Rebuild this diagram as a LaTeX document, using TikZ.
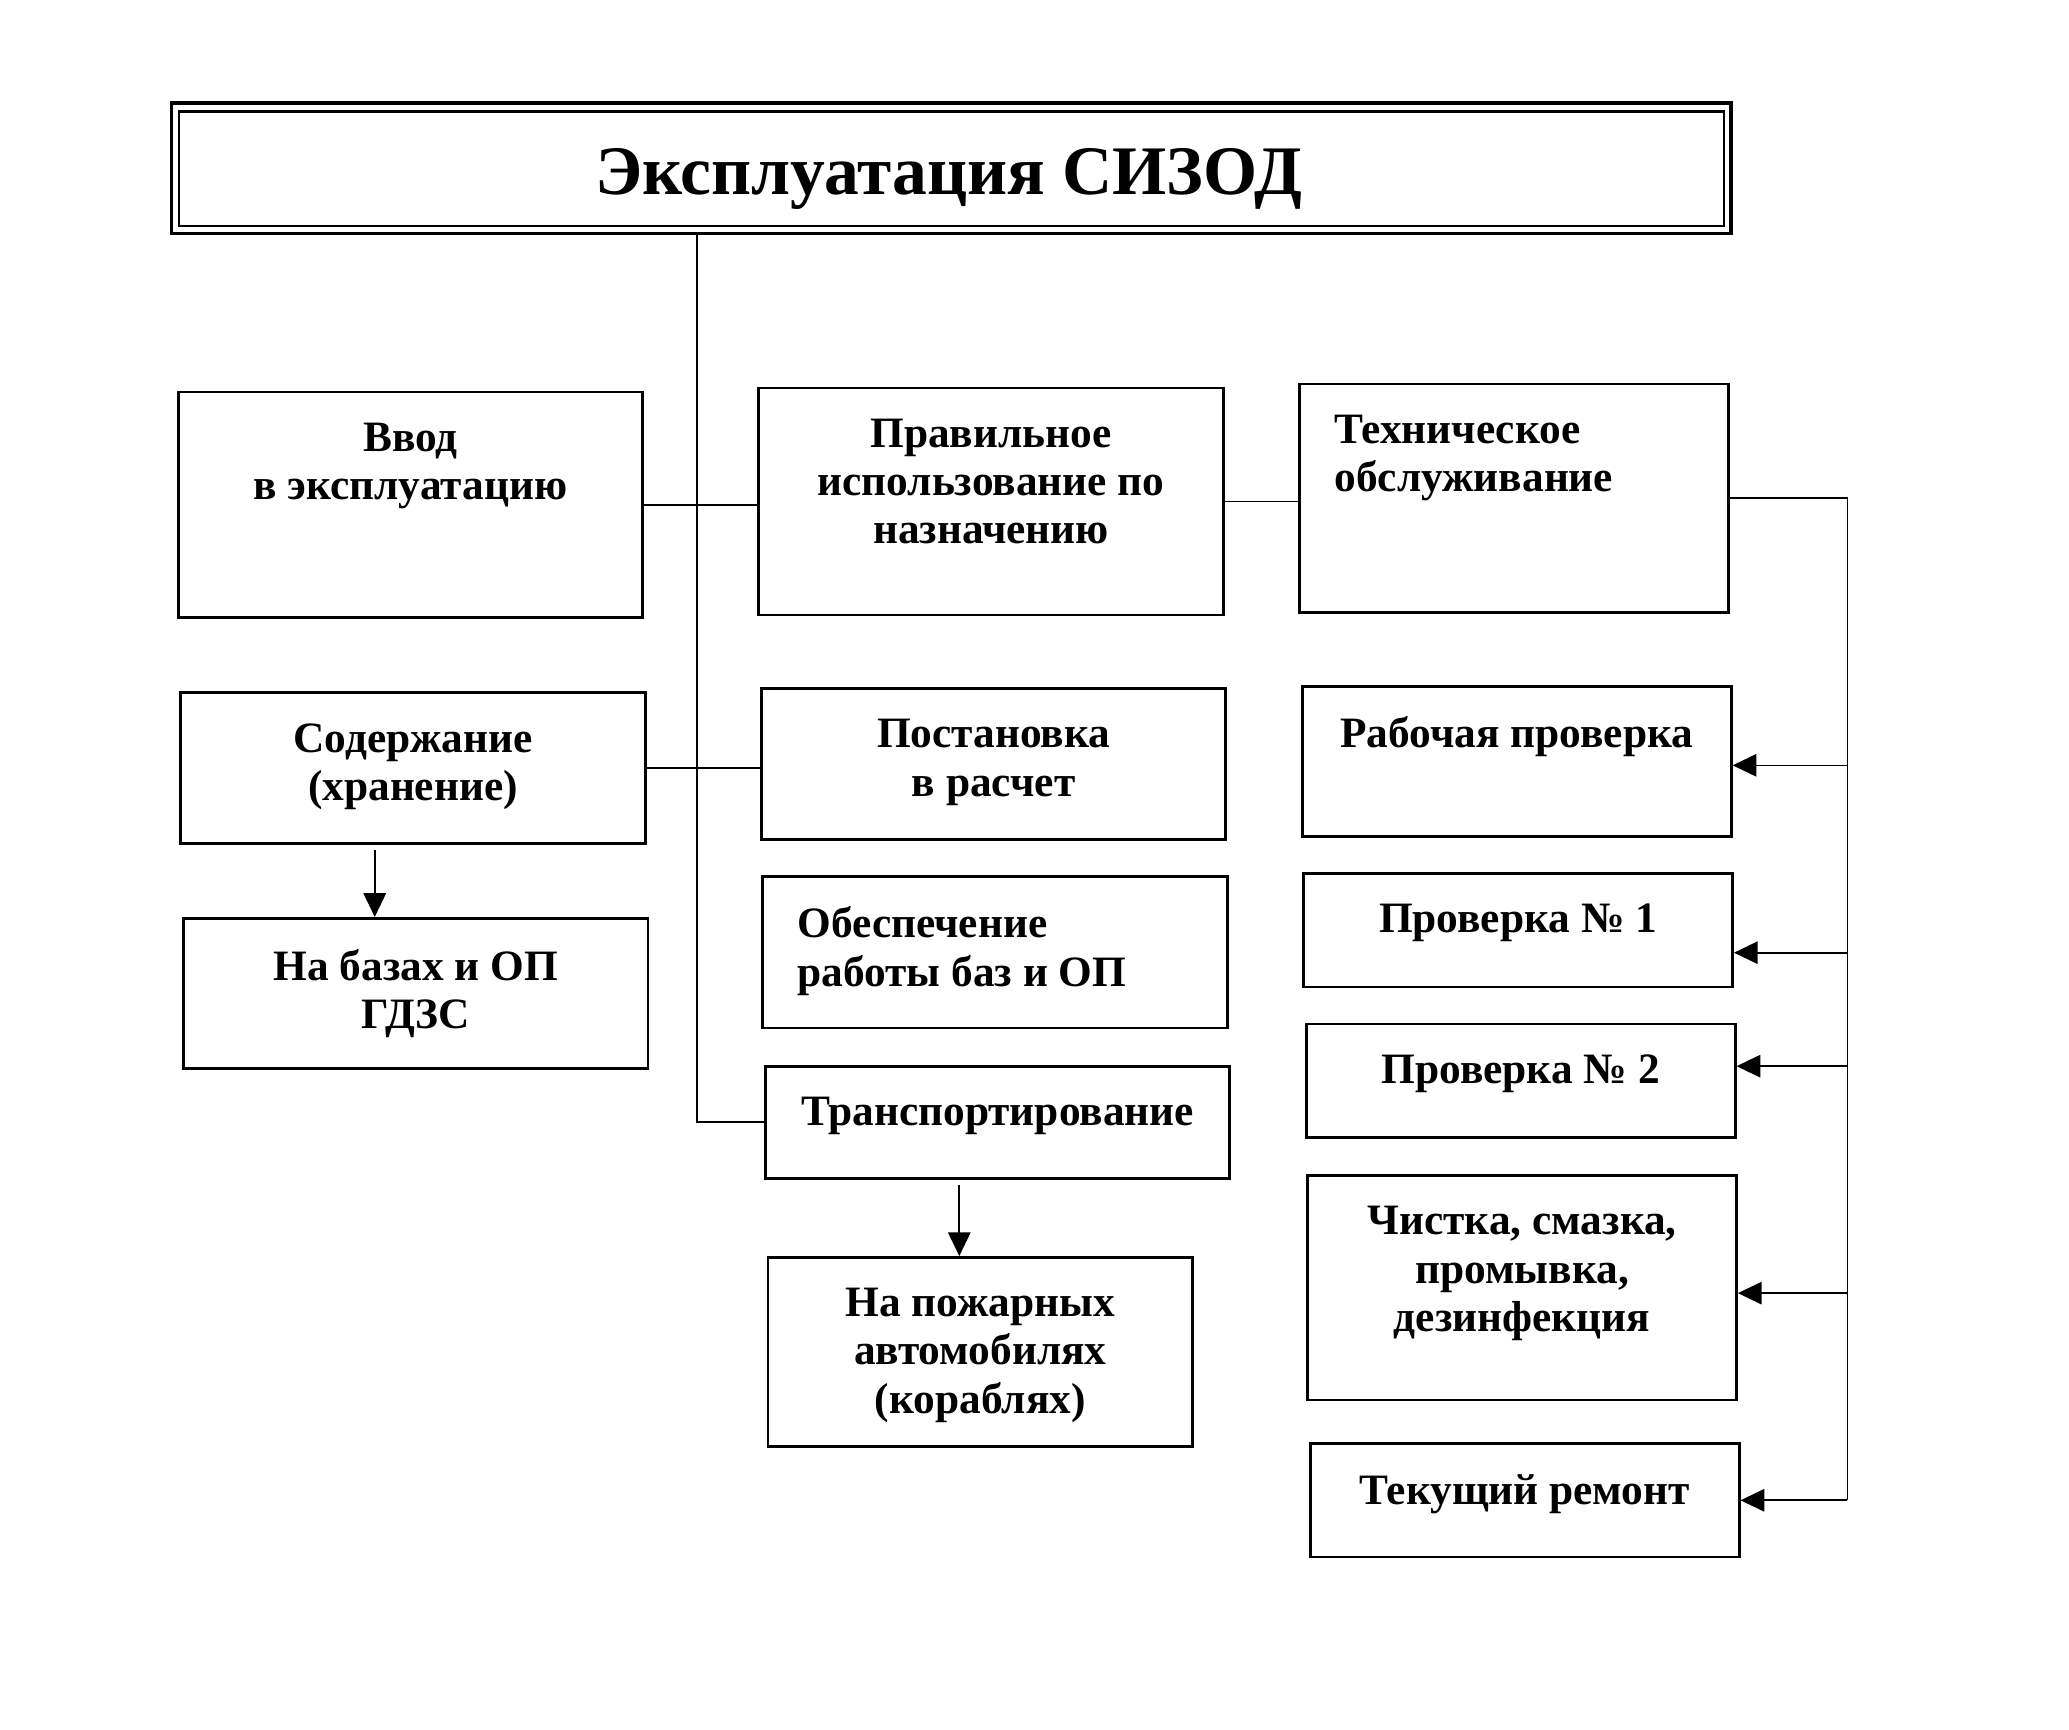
\documentclass[tikz,border=0pt]{standalone}
\usepackage{fontspec}
\setmainfont{Liberation Serif}
\usetikzlibrary{arrows.meta,calc}

\begin{document}
\begin{tikzpicture}[>={Triangle[length=0.36cm,width=0.34cm]},
  box/.style={draw, line width=1.2pt, inner sep=0pt},
  txt/.style={anchor=north, align=center, inner sep=0pt, yshift=-0.48cm,
    font=\bfseries\fontsize{18.7}{20.8}\selectfont},
  link/.style={line width=0.7pt}]
\useasboundingbox (0,0) rectangle (31.36,-26.22);

% title
\node[box, line width=1.6pt, minimum width=23.64cm, minimum height=1.98cm] (title) at (14.42,-2.55) {};
\draw[line width=1.1pt] ($(title.north west)+(0.14,-0.16)$) rectangle ($(title.south east)+(-0.14,0.14)$);
\node[font=\bfseries\fontsize{30}{36}\selectfont] (title-t) at (14.38,-2.72) {Эксплуатация СИЗОД};

% left column
\node[box, minimum width=7.04cm, minimum height=3.42cm] (vvod) at (6.22,-7.65) {};
\node[txt] (vvod-t) at (vvod.north) {Ввод\\в эксплуатацию};
\node[box, minimum width=7.04cm, minimum height=2.28cm] (soder) at (6.26,-11.64) {};
\node[txt] (soder-t) at (soder.north) {Содержание\\(хранение)};
\node[box, minimum width=7.04cm, minimum height=2.28cm] (bazy) at (6.30,-15.06) {};
\node[txt] (bazy-t) at (bazy.north) {На базах и ОП\\ГДЗС};

% middle column
\node[box, minimum width=7.04cm, minimum height=3.44cm] (prav) at (15.02,-7.60) {};
\node[txt] (prav-t) at (prav.north) {Правильное\\использование по\\назначению};
\node[box, minimum width=7.04cm, minimum height=2.28cm] (post) at (15.06,-11.58) {};
\node[txt] (post-t) at (post.north) {Постановка\\в расчет};
\node[box, minimum width=7.04cm, minimum height=2.30cm] (obesp) at (15.08,-14.43) {};
\node[txt, anchor=north west, align=left, xshift=0.54cm] (obesp-t) at (obesp.north west) {Обеспечение\\работы баз и ОП};
\node[box, minimum width=7.04cm, minimum height=1.70cm] (transp) at (15.12,-17.01) {};
\node[txt] (transp-t) at (transp.north) {Транспортирование};
\node[box, minimum width=6.44cm, minimum height=2.86cm] (pozh) at (14.86,-20.49) {};
\node[txt] (pozh-t) at (pozh.north) {На пожарных\\автомобилях\\(кораблях)};

% right column
\node[box, minimum width=6.50cm, minimum height=3.46cm] (tech) at (22.95,-7.55) {};
\node[txt, anchor=north west, align=left, xshift=0.54cm] (tech-t) at (tech.north west) {Техническое\\обслуживание};
\node[box, minimum width=6.50cm, minimum height=2.28cm] (rab) at (22.99,-11.54) {};
\node[txt] (rab-t) at (rab.north) {Рабочая проверка};
\node[box, minimum width=6.50cm, minimum height=1.72cm] (pr1) at (23.01,-14.10) {};
\node[txt] (pr1-t) at (pr1.north) {Проверка № 1};
\node[box, minimum width=6.50cm, minimum height=1.72cm] (pr2) at (23.05,-16.38) {};
\node[txt] (pr2-t) at (pr2.north) {Проверка № 2};
\node[box, minimum width=6.50cm, minimum height=3.40cm] (chist) at (23.07,-19.52) {};
\node[txt] (chist-t) at (chist.north) {Чистка, смазка,\\промывка,\\дезинфекция};
\node[box, minimum width=6.50cm, minimum height=1.72cm] (rem) at (23.11,-22.74) {};
\node[txt] (rem-t) at (rem.north) {Текущий ремонт};

% trunk from title
\coordinate (trunk) at (10.56,0);
\draw[link] (title.south -| trunk) |- (transp.west);
\draw[link] (vvod.east) -- (vvod.east -| prav.west);
\draw[link] (soder.east) -- (soder.east -| post.west);
\draw[link] (prav.east) -- (prav.east -| tech.west);

% down arrows
\coordinate (s1) at ([xshift=-0.58cm,yshift=-0.08cm]soder.south);
\draw[link,->] (s1) -- (s1 |- bazy.north);
\coordinate (s2) at ([xshift=-0.58cm,yshift=-0.08cm]transp.south);
\draw[link,->] (s2) -- (s2 |- pozh.north);

% maintenance bus
\coordinate (bus) at (28.0,0);
\draw[link] (tech.east) -| (bus |- rem.east);
\foreach \n/\dy in {rab/-0.06, pr1/-0.34, pr2/0.22, chist/-0.08, rem/0} {
  \coordinate (\n-in) at ([yshift=\dy cm]\n.east);
  \draw[link,->] (bus |- \n-in) -- (\n-in);
}
\end{tikzpicture}
\end{document}
